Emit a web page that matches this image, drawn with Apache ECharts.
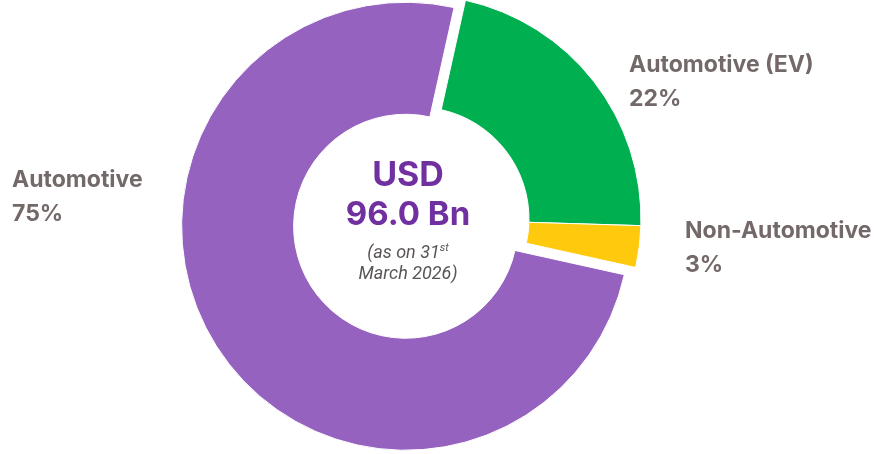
<!DOCTYPE html>
<html>
<head>
<meta charset="utf-8">
<title>Revenue mix</title>
<script src="https://cdn.jsdelivr.net/npm/echarts@6/dist/echarts.min.js"></script>
<style>
  html, body { margin: 0; padding: 0; background: #ffffff; }
  #chart { width: 875px; height: 454px; }
</style>
</head>
<body>
<div id="chart"></div>
<script>
// Segment shares (%), listed clockwise from the top
const categories = ['Automotive (EV)', 'Non-Automotive', 'Automotive'];
const shares = [22, 3, 75];
const colors = ['#00AF50', '#FFCA0D', '#9562BF'];

// Centre caption
const totalLines = ['USD', '96.0 Bn'];
const asOnText = ['(as on 31', 'st', 'March 2026)'];

// Where each outside label block sits (left edge, vertical middle)
const labelSpots = [
  { x: 629, y: 82 },
  { x: 685, y: 248 },
  { x: 12, y: 197 }
];

const chart = echarts.init(document.getElementById('chart'), null, { renderer: 'canvas' });

const pieData = categories.map((name, i) => ({
  name: name,
  value: shares[i],
  selected: name === 'Automotive',
  itemStyle: { color: colors[i] },
  select: { itemStyle: { color: colors[i] } }
}));

// Segment labels: name on the first line, share on the second
const segmentLabels = categories.map((name, i) => ({
  type: 'text',
  style: {
    x: labelSpots[i].x,
    y: labelSpots[i].y,
    text: name + '\n' + shares[i] + '%',
    align: 'left',
    verticalAlign: 'middle',
    font: 'bold 23px Inter',
    lineHeight: 34,
    fill: '#746969'
  }
}));

chart.setOption({
  animation: false,
  series: [{
    type: 'pie',
    center: [417, 219],
    radius: [112, 224],
    startAngle: 77.5,
    clockwise: true,
    selectedMode: 'single',
    selectedOffset: 13.5,
    itemStyle: { borderColor: '#ffffff', borderWidth: 1 },
    emphasis: { disabled: true },
    label: { show: false },
    labelLine: { show: false },
    data: pieData
  }],
  graphic: segmentLabels.concat([
    {
      type: 'text',
      style: {
        x: 408, y: 176,
        text: totalLines[0],
        align: 'center', verticalAlign: 'middle',
        font: 'bold 34px Inter',
        fill: '#7030A0'
      }
    },
    {
      type: 'text',
      style: {
        x: 408, y: 215,
        text: totalLines[1],
        align: 'center', verticalAlign: 'middle',
        font: 'bold 33px Inter',
        fill: '#7030A0'
      }
    },
    {
      type: 'text',
      style: {
        x: 408, y: 264,
        text: '{a|' + asOnText[0] + '}{s|' + asOnText[1] + '}\n{a|' + asOnText[2] + '}',
        align: 'center', verticalAlign: 'middle',
        rich: {
          a: { fontFamily: 'Roboto', fontStyle: 'italic', fontSize: 18, lineHeight: 21, fill: '#595555' },
          s: { fontFamily: 'Roboto', fontStyle: 'italic', fontSize: 11, lineHeight: 21, verticalAlign: 'top', fill: '#595555' }
        }
      }
    }
  ])
});
</script>
</body>
</html>
